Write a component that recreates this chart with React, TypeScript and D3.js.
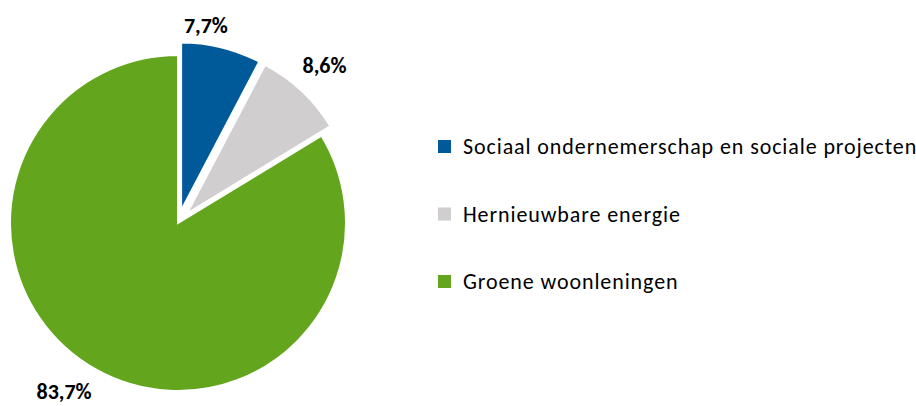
import React from "react";
import * as d3 from "d3";

const categories = [
  "Sociaal ondernemerschap en sociale projecten",
  "Hernieuwbare energie",
  "Groene woonleningen",
];
const values = [7.7, 8.6, 83.7];
const valueLabels = ["7,7%", "8,6%", "83,7%"];
const colors = ["#005A9A", "#D0CECF", "#63A61E"];
const exploded = [13, 13, 0];

const W = 916;
const H = 406;
const CX = 178;
const CY = 223;
const R = 168;
const FONT = "Carlito, Calibri, Lato, sans-serif";

// label placement (radius from slice centre, pixel nudge)
const labelRadius = [187, 201, 208];
const labelNudge: [number, number][] = [
  [-20, -3],
  [0, -2],
  [-12, -13],
];

export default function App() {
  const pie = d3.pie<number>().sort(null).value((d) => d);
  const arcs = pie(values);
  const arc = d3.arc<d3.PieArcDatum<number>>().innerRadius(0).outerRadius(R);

  return (
    <svg width={W} height={H} style={{ position: "absolute", left: 0, top: 0 }}>
      <rect width={W} height={H} fill="#fff" />
      {arcs.map((a, i) => {
        const mid = (a.startAngle + a.endAngle) / 2;
        const ox = Math.sin(mid) * exploded[i];
        const oy = -Math.cos(mid) * exploded[i];
        return (
          <path
            key={i}
            d={arc(a) || ""}
            transform={`translate(${CX + ox},${CY + oy})`}
            fill={colors[i]}
            stroke="#fff"
            strokeWidth={2}
            strokeLinejoin="miter"
          />
        );
      })}
      {arcs.map((a, i) => {
        const mid = (a.startAngle + a.endAngle) / 2;
        const ox = Math.sin(mid) * exploded[i];
        const oy = -Math.cos(mid) * exploded[i];
        const x = CX + ox + Math.sin(mid) * labelRadius[i] + labelNudge[i][0];
        const y = CY + oy - Math.cos(mid) * labelRadius[i] + labelNudge[i][1];
        return (
          <text
            key={i}
            x={x}
            y={y}
            textAnchor="middle"
            dominantBaseline="central"
            fontFamily={FONT}
            fontWeight="bold"
            fontSize={22}
            fill="#000"
          >
            {valueLabels[i]}
          </text>
        );
      })}
      {categories.map((c, i) => {
        const y = 146.5 + i * 67.5;
        return (
          <g key={c}>
            <rect x={438} y={y - 6.5} width={13} height={13} fill={colors[i]} />
            <text
              x={463}
              y={y + 7.5}
              fontFamily={FONT}
              fontSize={22}
              letterSpacing={0.9}
              fill="#000"
            >
              {c}
            </text>
          </g>
        );
      })}
    </svg>
  );
}
